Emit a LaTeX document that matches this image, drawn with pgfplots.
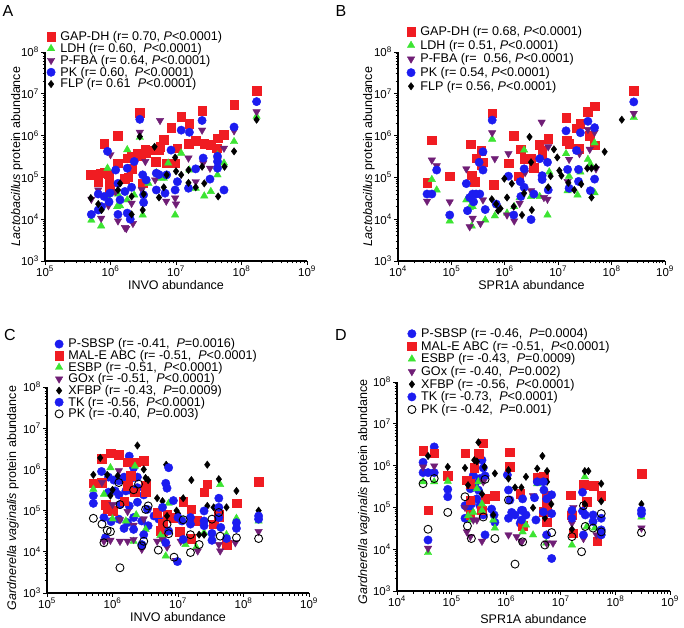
\documentclass[border=0pt]{standalone}
\usepackage{fontspec}
\setmainfont{Liberation Sans}
\usepackage{pgfplots}
\pgfplotsset{compat=1.18}

\definecolor{cred}{RGB}{240,28,34}
\definecolor{cgreen}{RGB}{60,228,50}
\definecolor{cpurple}{RGB}{112,30,118}
\definecolor{cblue}{RGB}{28,28,240}

\pgfplotsset{
  every axis/.append style={
    scale only axis,
    ymin=1e3, ymax=1e8,
    axis x line*=bottom, axis y line*=left,
    axis line style={line width=1.1pt, black},
    tick style={black, line width=0.9pt},
    tick align=outside,
    major tick length=4pt, minor tick length=2.5pt,
    ytick={1e3,1e4,1e5,1e6,1e7,1e8},
    yticklabels={10\textsuperscript{3},10\textsuperscript{4},10\textsuperscript{5},10\textsuperscript{6},10\textsuperscript{7},10\textsuperscript{8}},
    tick label style={font=\fontsize{11.5}{12}\selectfont},
    xticklabel style={inner sep=1pt},
    yticklabel style={inner sep=2pt},
    label style={font=\fontsize{12.5}{14}\selectfont},
    legend style={draw=none, fill=none, inner sep=0pt, font=\fontsize{12.6}{13}\selectfont,
      nodes={inner sep=1pt}, column sep=4pt, anchor=north west},
    legend cell align=left,
    clip=false,
  },
  sq/.style={only marks, mark=square*, mark size=4.3pt, color=cred},
  tri/.style={only marks, mark=triangle*, mark size=4.3pt, color=cgreen},
  itri/.style={only marks, mark=triangle*, mark size=4.3pt, mark options={rotate=180}, color=cpurple},
  dot/.style={only marks, mark=*, mark size=4.2pt, color=cblue},
  dia/.style={only marks, mark=diamond*, mark size=3.7pt, color=black},
  odot/.style={only marks, mark=o, mark size=4pt, mark options={line width=0.9pt}, color=black},
}

\begin{document}
\begin{tikzpicture}
\useasboundingbox (0,0) rectangle (684pt,627pt);
\node[font=\fontsize{16}{16}\selectfont] at (8pt,616pt) {A};
\node[font=\fontsize{16}{16}\selectfont] at (341pt,616pt) {B};
\node[font=\fontsize{16}{16}\selectfont] at (10pt,292pt) {C};
\node[font=\fontsize{16}{16}\selectfont] at (341pt,292pt) {D};

% ---------------- A ----------------
\begin{axis}[xmode=log, ymode=log, at={(45pt,366pt)}, anchor=south west,
  width=262pt, height=209pt,
  xmin=1e5, xmax=1e9, xtick={1e5,1e6,1e7,1e8,1e9},
  xticklabels={10\textsuperscript{5},10\textsuperscript{6},10\textsuperscript{7},10\textsuperscript{8},10\textsuperscript{9}},
  minor xtick={2e5,3e5,4e5,5e5,6e5,7e5,8e5,9e5,2e6,3e6,4e6,5e6,6e6,7e6,8e6,9e6,2e7,3e7,4e7,5e7,6e7,7e7,8e7,9e7,2e8,3e8,4e8,5e8,6e8,7e8,8e8,9e8},
  xlabel={INVO abundance}, ylabel={\textit{Lactobacillus} protein abundance},
  xlabel style={at={(axis description cs:0.5,-0.115)}, anchor=center},
  ylabel style={at={(axis description cs:-0.107,0.5)}, anchor=center},
  legend style={at={(axis description cs:0.006,1.104)}, row sep=-0.8pt}]
\addplot[sq] coordinates {
(1.7e8,1.2e7) (7.7e7,5.4e6) (2.5e7,3.9e6) (1.2e7,2.8e6) (1.6e7,1.95e6) (8.4e6,1.55e6)
(6.5e6,7.9e5) (2.0e7,7.6e5) (1.55e7,6.5e5) (2.7e7,6.5e5) (3.4e7,6.0e5) (4.2e7,5.0e5)
(4.3e7,8.7e5) (5.4e7,1.05e6) (5.7e6,5.5e5) (1.05e7,5.0e5) (7.1e6,2.2e5) (9.7e6,2.2e5)
(2.8e6,3.5e6) (1.3e6,1.0e6) (8.0e5,6.5e5) (5.0e5,1.15e5) (6.5e5,7.9e4) (7.1e5,1.26e5)
(8.1e5,1.3e5) (9.3e5,1.2e5) (9.5e5,8.3e4) (1.3e6,2.2e5) (1.8e6,2.9e5) (2.1e6,3.2e5)
(2.6e6,3.8e5) (2.9e6,3.2e5) (3.4e6,4.6e5) (3.5e6,3.8e5) (4.7e6,4.5e5) (5.4e6,4.6e5)
(1.66e6,9.3e4) (1.86e6,1.0e5) (2.1e6,1.6e5) (3.1e6,7.2e4) (4.9e6,2.4e5) (9.8e5,5.1e4)
};
\addlegendentry{GAP-DH (r= 0.70, \textit{P}<0.0001)}
\addplot[tri] coordinates {
(1.7e8,2.9e6) (7.7e7,7.2e5) (1.2e7,3.8e5) (4.3e7,3.4e5) (5.4e7,2.2e5) (1.6e7,1.5e5)
(4.3e7,1.15e5) (7.6e6,2.2e5) (2.0e7,5.5e4) (2.7e7,3.6e4) (3.4e7,4.6e4) (9.7e6,1.26e4)
(6.5e6,9.5e4) (2.8e6,9.1e5) (1.8e6,4.6e5) (9.0e5,1.66e5) (5.1e5,9.5e3) (7.2e5,6.9e3)
(3.1e6,1.26e4) (1.26e6,2.0e4) (1.4e6,2.1e4) (1.8e6,2.9e4) (2.3e6,3.8e4) (3.8e6,7.2e4)
(6.0e6,9.5e4) (9.3e5,3.2e4) (1.3e6,4.0e4) (5.0e6,1.3e5)
};
\addlegendentry{LDH (r= 0.60,\ \ \textit{P}<0.0001)}
\addplot[itri] coordinates {
(1.7e8,3.7e6) (7.7e7,1.3e6) (2.5e7,1.35e6) (5.7e6,2.3e6) (1.55e7,2.9e5) (2.6e7,2.2e5)
(3.3e7,1.66e5) (5.4e7,5.0e5) (2.0e7,7.9e4) (9.7e6,3.2e4) (1.0e7,2.3e4) (7.1e6,2.7e4)
(4.3e7,2.5e5) (2.8e6,1.2e6) (6.5e5,5.0e4) (9.3e5,2.1e4) (1.2e6,4.6e4) (1.66e6,6.3e3)
(1.74e6,6.0e3) (1.3e6,9.1e3) (2.2e6,7.9e3) (2.1e6,2.4e4) (3.4e6,2.4e5) (4.8e6,8.7e4)
(5.1e5,3.0e4) (7.2e5,1.05e4) (3.0e6,5.1e4) (1.0e6,3.5e5)
};
\addlegendentry{P-FBA (r= 0.64, \textit{P}<0.0001)}
\addplot[dot] coordinates {
(1.7e8,6.5e6) (2.5e7,2.3e6) (1.2e7,1.35e6) (1.6e7,1.2e6) (7.7e7,1.6e6) (8.4e6,4.5e5)
(2.6e7,2.9e5) (4.3e7,3.2e5) (4.3e7,2.4e5) (4.3e7,1.66e5) (2.0e7,1.6e5) (3.3e7,9.1e4)
(1.05e7,7.9e4) (1.55e7,5.5e4) (9.7e6,5.0e4) (5.4e7,5.0e4) (6.8e6,4.2e4) (7.2e6,1.15e5)
(2.8e6,2.45e6) (9.0e5,4.2e5) (2.3e6,2.4e5) (1.2e6,1.5e5) (1.8e6,1.66e5) (3.1e6,1.15e5)
(3.5e6,8.7e4) (5.0e6,1.26e5) (5.5e6,1.17e5) (1.3e6,7.2e4) (6.5e5,4.0e4) (8.0e5,3.5e4)
(9.8e5,4.2e4) (9.5e5,2.6e4) (7.3e5,2.0e4) (5.1e5,1.3e4) (6.5e5,1.66e4) (1.3e6,1.3e4)
(1.66e6,4.6e4) (2.1e6,5.8e4) (3.2e6,3.8e4) (3.2e6,2.5e4) (2.0e6,1.0e4) (1.8e6,1.4e4)
(1.4e6,2.9e4) (5.0e6,5.0e4)
};
\addlegendentry{PK (r= 0.60,\ \ \textit{P}<0.0001)}
\addplot[dia] coordinates {
(1.7e8,2.4e6) (7.7e7,4.2e5) (9.7e6,3.0e5) (1.0e7,1.4e5) (1.2e7,1.15e5) (2.5e7,1.8e5)
(5.5e7,1.8e5) (1.55e7,1.5e5) (7.2e6,1.15e5) (6.5e6,5.8e4) (1.55e7,7.4e4) (2.0e7,5.8e4)
(2.7e7,7.2e4) (4.4e7,3.5e4) (2.8e6,9.5e5) (4.7e6,5.4e5) (5.0e5,3.2e4) (6.5e5,2.3e4)
(7.3e5,1.66e4) (1.3e6,5.0e4) (2.1e6,3.5e4) (3.1e6,1.66e4) (1.4e6,7.2e4) (2.1e6,1.3e4)
(3.2e6,4.0e4) (5.5e6,3.3e4)
};
\addlegendentry{FLP (r= 0.61\ \ \textit{P}<0.0001)}
\end{axis}

% ---------------- B ----------------
\begin{axis}[xmode=log, ymode=log, at={(398pt,366pt)}, anchor=south west,
  width=267pt, height=209pt,
  xmin=1e4, xmax=1e9, xtick={1e4,1e5,1e6,1e7,1e8,1e9},
  xticklabels={10\textsuperscript{4},10\textsuperscript{5},10\textsuperscript{6},10\textsuperscript{7},10\textsuperscript{8},10\textsuperscript{9}},
  minor xtick={2e4,3e4,4e4,5e4,6e4,7e4,8e4,9e4,2e5,3e5,4e5,5e5,6e5,7e5,8e5,9e5,2e6,3e6,4e6,5e6,6e6,7e6,8e6,9e6,2e7,3e7,4e7,5e7,6e7,7e7,8e7,9e7,2e8,3e8,4e8,5e8,6e8,7e8,8e8,9e8},
  xlabel={SPR1A abundance}, ylabel={\textit{Lactobacillus} protein abundance},
  xlabel style={at={(axis description cs:0.5,-0.115)}, anchor=center},
  ylabel style={at={(axis description cs:-0.109,0.5)}, anchor=center},
  legend style={at={(axis description cs:0.032,1.128)}, row sep=1pt}]
\addplot[sq] coordinates {
(2.6e8,1.2e7) (4.8e7,5.1e6) (3.6e7,3.7e6) (1.4e7,2.7e6) (2.6e7,1.95e6) (2.2e7,1.5e6)
(3.9e7,1.0e6) (1.43e7,7.5e5) (1.6e7,6.5e5) (4.8e7,5.9e5) (2.4e7,4.9e5) (6.5e6,8.5e5)
(4.4e6,6.1e5) (5.0e6,4.5e5) (5.0e6,3.4e5) (2.0e6,4.7e5) (2.3e6,2.8e5) (3.1e6,2.8e5)
(3.5e6,1.7e5) (5.8e5,3.4e6) (4.3e4,7.8e5) (2.3e5,6.2e5) (1.47e6,9.8e5) (1.95e6,4.7e5)
(2.9e5,2.9e5) (3.9e5,2.3e5) (2.4e5,1.12e5) (2.7e5,8.0e4) (9.3e4,1.07e5) (3.5e4,7.4e4)
(6.2e5,6.6e4) (1.17e6,2.2e5) (1.8e6,1.07e5) (3.6e5,1.95e5) (3.6e5,4.3e5)
};
\addlegendentry{GAP-DH (r= 0.68, \textit{P}<0.0001)}
\addplot[tri] coordinates {
(2.6e8,2.7e6) (1.4e7,3.7e5) (3.6e7,2.7e5) (4.0e7,2.1e5) (4.8e7,6.7e5) (1.6e7,1.07e5)
(2.3e7,3.8e4) (4.8e7,4.3e4) (1.5e7,4.8e4) (6.8e6,1.35e5) (6.3e6,1.26e4) (4.5e6,3.5e4)
(3.1e6,3.5e4) (2.3e6,4.5e5) (2.6e7,1.35e5) (5.8e5,8.2e5) (4.3e4,8.9e4) (5.3e4,5.0e4)
(9.3e4,9.1e3) (1.9e5,2.9e4) (2.4e5,6.9e3) (4.3e5,9.6e3) (6.5e5,1.2e4) (2.5e5,2.0e4)
(1.1e6,1.4e4) (1.5e6,2.0e4) (1.9e6,3.3e4) (2.2e5,1.9e4)
};
\addlegendentry{LDH (r= 0.51, \textit{P}<0.0001)}
\addplot[itri] coordinates {
(2.6e8,3.4e6) (4.9e6,2.1e6) (3.6e7,1.4e6) (4.8e7,1.2e6) (6.5e6,5.4e5) (3.9e7,4.7e5)
(1.6e7,2.7e5) (5.1e7,1.6e5) (1.5e7,8.0e4) (2.4e6,1.3e5) (3.1e6,4.8e4) (5.4e6,3.3e4)
(6.3e6,3.0e4) (1.9e6,2.4e4) (2.5e7,3.7e5) (5.8e5,1.17e6) (4.3e4,2.6e5) (5.3e4,1.9e5)
(3.5e4,2.7e4) (9.3e4,2.6e4) (1.9e5,1.6e5) (6.5e5,2.8e5) (1.17e6,3.7e5) (2.2e5,6.6e3)
(3.5e5,7.9e3) (3.9e5,2.9e4) (2.5e5,1.05e4) (1.5e6,9.1e3) (1.1e6,1.26e4)
};
\addlegendentry{P-FBA (r=\ \ 0.56, \textit{P}<0.0001)}
\addplot[dot] coordinates {
(2.6e8,6.4e6) (1.4e7,1.3e6) (2.6e7,1.17e6) (3.6e7,2.2e6) (4.8e7,1.55e6) (2.2e7,4.4e5)
(4.5e6,2.8e5) (6.3e6,2.3e5) (2.3e6,1.6e5) (5.0e6,1.1e5) (5.0e6,8.9e4) (1.5e7,1.55e5)
(2.4e7,1.55e5) (4.8e7,9.1e4) (2.4e7,8.0e4) (1.6e7,5.5e4) (4.0e7,4.8e4) (6.5e6,5.0e4)
(3.5e6,4.0e4) (2.3e6,5.8e4) (3.1e6,9.8e3) (2.0e6,3.5e4) (5.8e5,2.35e6) (5.3e4,1.5e5)
(3.5e4,4.0e4) (4.3e4,4.0e4) (9.3e4,1.26e4) (3.9e5,4.1e5) (3.3e5,2.3e5) (3.9e5,1.5e5)
(1.9e5,7.1e4) (2.5e5,4.0e4) (3.4e5,4.0e4) (2.9e5,4.0e4) (2.6e5,2.6e4) (2.0e5,1.6e4)
(4.3e5,1.7e4) (6.9e5,2.3e4) (1.17e6,1.07e5) (1.47e6,1.26e4) (1.95e6,7.9e4) (2.2e5,3.3e4)
};
\addlegendentry{PK (r= 0.54, \textit{P}<0.0001)}
\addplot[dia] coordinates {
(1.55e8,2.4e6) (7.4e7,4.1e5) (2.9e6,9.3e5) (8.3e6,4.7e5) (9.6e6,3.0e5) (1.05e7,1.45e5)
(1.15e7,1.1e5) (3.1e6,2.3e5) (3.5e7,1.65e5) (4.2e7,1.65e5) (5.1e7,1.75e5) (7.2e6,1.07e5)
(2.0e7,5.0e4) (2.7e7,6.9e4) (1.55e7,7.4e4) (4.2e7,3.3e4) (6.5e6,5.8e4) (3.2e6,1.66e4)
(2.1e6,1.26e4) (9.8e5,9.3e4) (1.35e6,7.1e4) (5.7e5,3.0e4) (6.9e5,2.3e4) (8.3e5,1.8e4)
(1.47e6,2.0e4) (1.1e6,3.3e4) (7.5e5,1.6e4) (2.3e6,4.2e4)
};
\addlegendentry{FLP (r= 0.56, \textit{P}<0.0001)}
\end{axis}

% ---------------- C ----------------
\begin{axis}[xmode=log, ymode=log, at={(47pt,34pt)}, anchor=south west,
  width=262pt, height=206pt,
  xmin=1e5, xmax=1e9, xtick={1e5,1e6,1e7,1e8,1e9},
  xticklabels={10\textsuperscript{5},10\textsuperscript{6},10\textsuperscript{7},10\textsuperscript{8},10\textsuperscript{9}},
  minor xtick={2e5,3e5,4e5,5e5,6e5,7e5,8e5,9e5,2e6,3e6,4e6,5e6,6e6,7e6,8e6,9e6,2e7,3e7,4e7,5e7,6e7,7e7,8e7,9e7,2e8,3e8,4e8,5e8,6e8,7e8,8e8,9e8},
  xlabel={INVO abundance}, ylabel={\textit{Gardnerella vaginalis} protein abundance},
  xlabel style={at={(axis description cs:0.5,-0.115)}, anchor=center},
  ylabel style={at={(axis description cs:-0.130,0.46)}, anchor=center},
  legend style={at={(axis description cs:0.029,1.24)}, row sep=-1pt}]
\addplot[dot] coordinates {
(1.8e6,2.1e6) (6.8e5,8.9e5) (5.1e5,2.3e5) (5.1e5,1.5e5) (8.7e5,6.5e5) (1.05e6,5.5e5)
(1.25e6,5.3e5) (1.5e6,6.5e5) (2.0e6,6.2e5) (2.4e6,6.5e5) (8.7e5,2.8e5) (1.1e6,3.0e5)
(1.25e6,2.4e5) (1.6e6,3.0e5) (2.0e6,3.0e5) (2.4e6,3.6e5) (3.0e6,2.4e5) (7.8e5,1.3e5)
(9.8e5,1.07e5) (1.3e6,1.4e5) (1.8e6,1.3e5) (2.4e6,1.6e5) (3.4e6,1.07e5) (4.3e6,7.4e4)
(5.1e6,6.2e4) (7.4e5,6.8e4) (9.5e5,5.4e4) (1.25e6,6.2e4) (1.7e6,5.1e4) (2.1e6,6.8e4)
(2.8e6,5.6e4) (3.5e6,4.3e4) (7.8e5,2.2e4) (2.1e6,1.1e6)
};
\addlegendentry{P-SBSP (r= -0.41,\ \ \textit{P}=0.0016)}
\addplot[sq] coordinates {
(6.8e5,1.8e6) (9.3e5,2.45e6) (1.25e6,2.3e6) (1.7e6,1.5e6) (2.3e6,1.5e6) (3.0e6,1.6e6)
(5.1e5,4.6e5) (6.9e5,4.8e5) (1.7e6,4.0e5) (1.9e6,7.0e5) (3.2e6,4.0e5) (3.2e6,2.8e5)
(7.8e5,1.4e5) (8.3e5,1.07e5) (4.8e6,9.0e4) (5.4e6,3.2e4) (2.2e6,2.8e5) (1.5e6,1.7e5)
(1.0e6,1.0e5) (1.7e8,5.1e5) (2.8e7,4.4e5) (2.5e7,2.8e5) (7.8e7,1.5e5) (1.2e7,1.65e5)
(1.6e7,1.07e5) (6.8e6,8.0e4) (8.5e6,6.8e4) (1.07e7,3.1e4) (4.2e7,8.2e4) (3.5e7,4.7e4)
(1.95e7,5.6e4) (1.6e7,2.1e4) (5.5e7,1.5e4) (5.8e6,5.0e4) (5.8e6,3.3e4) (4.2e7,7.0e4)
};
\addlegendentry{MAL-E ABC (r= -0.51,\ \ \textit{P}<0.0001)}
\addplot[tri] coordinates {
(9.3e5,1.1e6) (5.1e5,3.3e5) (7.4e5,2.5e5) (1.0e6,6.3e4) (1.6e6,5.6e4) (2.3e6,7.9e4)
(3.2e6,3.5e4) (2.1e6,1.8e4) (5.4e6,2.5e4) (6.0e6,2.1e4) (7.2e6,1.5e5) (4.4e7,4.3e5)
(1.2e7,5.9e4) (6.5e6,7.9e3) (1.9e7,1.3e4) (2.5e7,2.9e4) (7.8e7,6.5e4) (1.7e8,5.6e4)
(5.8e6,2.0e4) (5.5e7,2.6e4) (2.2e6,1.2e6) (1.3e7,1.5e4)
};
\addlegendentry{ESBP (r= -0.51,\ \ \textit{P}<0.0001)}
\addplot[itri] coordinates {
(1.25e6,9.3e5) (6.9e5,4.8e5) (1.0e6,1.4e5) (1.3e6,6.0e4) (1.7e6,9.5e4) (2.1e6,4.4e4)
(3.0e6,6.3e4) (7.4e5,1.8e4) (9.3e5,1.9e4) (1.3e6,1.8e4) (1.7e6,1.8e4) (2.1e6,2.0e4)
(2.8e6,1.15e4) (4.8e6,1.8e4) (9.2e6,6.2e3) (6.8e6,1.3e4) (4.4e7,1.05e4) (7.5e7,1.66e4)
(1.7e8,3.1e4) (2.0e7,1.05e4) (4.2e7,1.5e4) (1.1e7,1.8e4) (5.8e6,2.0e4)
};
\addlegendentry{GOx (r= -0.51,\ \ \textit{P}<0.0001)}
\addplot[dia] coordinates {
(2.4e6,3.8e6) (5.1e5,7.4e5) (6.5e5,1.9e6) (8.3e5,7.4e5) (1.2e6,7.0e5) (3.2e6,6.2e5)
(3.5e6,5.5e5) (1.0e6,3.2e5) (3.0e6,1.0e6) (4.8e6,2.0e5) (6.6e6,1.3e6) (2.8e7,1.3e6)
(1.6e7,5.5e5) (4.2e7,5.8e5) (7.8e7,3.0e5) (1.2e7,2.0e5) (5.8e6,1.7e5) (3.5e7,1.2e5)
(5.5e7,1.2e5) (2.8e7,1.3e5) (9.5e6,1.0e5) (1.0e7,8.5e4) (1.7e8,1.0e5) (2.1e7,2.6e4)
(2.5e7,2.6e4) (6.8e6,7.4e4) (9.3e5,2.3e5)
};
\addlegendentry{XFBP (r= -0.43,\ \ \textit{P}=0.0009)}
\addplot[dot] coordinates {
(7.2e6,1.1e6) (6.5e6,4.6e5) (6.8e6,3.5e5) (8.5e6,1.75e5) (5.8e6,1.2e5) (1.0e7,6.8e4)
(1.15e7,5.6e4) (1.55e7,6.8e4) (1.55e7,4.7e4) (2.5e7,9.8e4) (2.5e7,5.6e4) (2.5e7,4.3e4)
(4.2e7,2.0e5) (4.2e7,1.2e5) (4.2e7,6.8e4) (4.5e7,3.9e4) (7.8e7,5.1e4) (7.8e7,3.7e4)
(1.7e8,7.4e4) (1.7e8,6.2e4) (1.2e7,2.0e4) (3.3e7,2.8e4) (3.3e7,1.9e4) (5.5e7,2.1e4)
(9.8e6,5.8e3) (6.5e6,1.66e4) (7.2e6,3.2e4) (1.5e6,3.7e4) (2.1e6,3.5e4) (3.0e6,2.6e4)
(2.8e6,1.5e4)
};
\addlegendentry{TK (r= -0.56,\ \ \textit{P}<0.0001)}
\addplot[odot] coordinates {
(5.1e5,6.5e4) (6.9e5,4.7e4) (8.3e5,3.3e4) (7.4e5,1.66e4) (9.3e5,3.1e4) (1.25e6,4.8e5)
(1.3e6,1.4e5) (2.1e6,3.2e5) (2.5e6,4.4e5) (3.2e6,1.07e5) (3.5e6,1.3e5) (1.3e6,4.1e3)
(3.0e6,1.8e4) (2.8e6,1.4e4) (7.8e7,2.2e4) (1.7e8,2.1e4) (3.3e7,6.2e4) (4.4e7,2.4e4)
(2.1e7,1.5e4) (1.55e7,9.6e3) (8.7e6,7.4e3) (7.2e6,2.75e4) (6.8e6,4.7e4) (1.55e7,2.6e4)
(4.2e7,9.0e4) (5.0e6,1.1e4) (1.2e7,6.0e4)
};
\addlegendentry{PK (r= -0.40,\ \ \textit{P}=0.003)}
\end{axis}

% ---------------- D ----------------
\begin{axis}[xmode=log, ymode=log, at={(397pt,36pt)}, anchor=south west,
  width=273pt, height=209pt,
  xmin=1e4, xmax=1e9, xtick={1e4,1e5,1e6,1e7,1e8,1e9},
  xticklabels={10\textsuperscript{4},10\textsuperscript{5},10\textsuperscript{6},10\textsuperscript{7},10\textsuperscript{8},10\textsuperscript{9}},
  minor xtick={2e4,3e4,4e4,5e4,6e4,7e4,8e4,9e4,2e5,3e5,4e5,5e5,6e5,7e5,8e5,9e5,2e6,3e6,4e6,5e6,6e6,7e6,8e6,9e6,2e7,3e7,4e7,5e7,6e7,7e7,8e7,9e7,2e8,3e8,4e8,5e8,6e8,7e8,8e8,9e8},
  xlabel={SPR1A abundance}, ylabel={\textit{Gardnerella vaginalis} protein abundance},
  xlabel style={at={(axis description cs:0.5,-0.135)}, anchor=center},
  ylabel style={at={(axis description cs:-0.121,0.474)}, anchor=center},
  legend style={at={(axis description cs:0.038,1.262)}, row sep=0pt}]
\addplot[dot] coordinates {
(4.8e4,2.8e6) (3.0e4,1.2e6) (3.0e4,6.8e5) (3.7e4,6.8e5) (4.8e4,6.8e5) (3.7e4,1.66e4)
(8.5e4,2.7e5) (8.5e4,1.8e5) (3.6e5,1.35e6) (3.8e5,8.8e5) (4.1e5,5.7e5) (3.3e5,4.9e5)
(2.5e5,5.9e5) (2.7e5,3.7e5) (2.2e5,2.8e5) (3.1e5,2.6e5) (2.9e5,1.6e5) (2.3e5,1.2e5)
(3.3e5,1.1e5) (3.8e5,6.6e4) (2.2e5,8.2e4) (5.4e5,9.1e4) (6.0e5,6.6e4) (6.2e5,4.4e4)
(4.1e5,2.2e4) (1.1e6,2.6e5) (1.17e6,1.5e5) (1.26e6,7.6e4) (1.1e6,5.5e4) (1.45e6,6.6e4)
(1.8e6,4.2e4) (1.9e6,8.5e4) (1.76e5,1.1e5) (1.76e5,5.5e4) (1.05e6,6.0e5)
};
\addlegendentry{P-SBSP (r= -0.46,\ \ \textit{P}=0.0004)}
\addplot[sq] coordinates {
(3.0e4,2.3e6) (4.8e4,2.0e6) (3.7e4,8.5e4) (8.5e4,5.7e5) (1.76e5,2.0e6) (3.1e5,1.95e6)
(3.8e5,3.4e6) (2.6e5,8.8e5) (1.9e5,4.5e5) (2.2e5,3.7e5) (4.1e5,1.6e5) (6.2e5,1.9e5)
(2.2e5,1.5e5) (3.6e5,8.5e4) (1.17e6,2.1e6) (1.15e6,9.3e5) (1.8e6,2.1e5) (2.0e6,3.6e4)
(2.2e5,6.8e4) (3.7e6,5.1e5) (4.8e6,5.4e5) (5.5e6,1.9e5) (5.5e6,1.1e5) (5.5e6,4.4e4)
(1.5e7,1.95e5) (2.6e7,3.5e5) (4.0e7,3.3e5) (5.5e7,1.9e5) (3.0e8,6.5e5) (1.6e7,6.5e4)
(1.7e7,2.4e4) (3.0e7,1.35e5) (4.6e7,1.55e4) (4.8e6,7.8e4)
};
\addlegendentry{MAL-E ABC (r= -0.51,\ \ \textit{P}<0.0001)}
\addplot[tri] coordinates {
(3.7e4,8.3e3) (4.8e4,4.1e5) (3.0e4,4.1e5) (8.5e4,4.2e5) (2.0e5,6.3e4) (2.3e5,5.0e4)
(2.5e5,7.6e4) (3.6e5,8.5e4) (3.6e5,1.2e5) (6.2e5,3.2e4) (2.9e5,2.8e5) (3.1e5,4.1e5)
(5.8e5,5.0e4) (3.7e6,3.7e5) (3.1e6,2.2e4) (5.4e6,2.2e4) (5.4e6,1.4e4) (1.6e7,1.26e4)
(2.75e7,5.4e5) (3.0e7,3.5e4) (4.2e7,3.2e4) (3.0e8,5.9e4) (2.0e6,2.6e4) (2.3e6,3.8e4)
};
\addlegendentry{ESBP (r= -0.43,\ \ \textit{P}=0.0009)}
\addplot[itri] coordinates {
(3.0e4,9.3e5) (4.8e4,9.8e5) (3.7e4,1.05e4) (1.76e5,1.0e5) (1.9e5,2.6e4) (2.2e5,2.0e4)
(3.6e5,1.55e4) (1.1e6,2.2e4) (1.55e6,2.0e4) (1.95e6,1.55e4) (2.5e5,5.0e4) (2.9e5,5.0e4)
(3.8e5,4.1e5) (3.1e6,1.9e5) (5.5e6,1.4e4) (7.2e6,1.4e4) (1.6e7,4.2e4) (1.7e7,1.0e5)
(2.6e7,1.8e4) (4.5e7,2.2e4) (3.0e8,3.2e4) (1.9e6,1.5e4)
};
\addlegendentry{GOx (r= -0.40,\ \ \textit{P}=0.002)}
\addplot[dia] coordinates {
(3.7e4,1.7e6) (8.5e4,9.3e5) (1.76e5,8.8e5) (2.9e5,1.26e6) (3.1e5,3.6e6) (2.6e5,1.35e6)
(4.0e5,9.3e5) (6.2e5,6.5e5) (1.1e6,4.9e5) (1.45e6,3.0e5) (1.9e6,3.0e5) (1.1e6,7.8e5)
(5.8e5,6.6e4) (2.0e5,3.4e5) (3.6e5,2.1e5) (4.6e6,1.7e6) (3.7e6,8.5e5) (5.6e6,7.4e5)
(2.3e6,5.4e5) (5.6e6,4.1e5) (6.7e6,1.2e5) (3.1e6,9.8e4) (2.75e7,7.4e5) (3.2e7,7.4e5)
(5.5e7,3.7e5) (2.75e7,1.2e5) (5.5e7,1.4e5) (3.0e8,1.2e5) (1.6e7,3.0e4) (5.1e6,5.6e4)
};
\addlegendentry{XFBP (r= -0.56,\ \ \textit{P}<0.0001)}
\addplot[dot] coordinates {
(3.7e6,4.1e5) (4.8e6,4.1e5) (2.0e6,8.5e4) (2.3e6,6.6e4) (1.9e6,5.0e4) (3.3e6,1.7e5)
(3.5e6,5.0e4) (4.9e6,2.6e5) (5.5e6,1.6e5) (6.8e6,2.0e5) (6.8e6,7.1e4) (4.8e6,7.8e4)
(5.5e6,2.2e4) (6.8e6,6.0e3) (1.6e7,8.5e4) (1.6e7,5.5e4) (2.5e7,2.3e5) (2.5e7,8.1e4)
(2.8e7,6.6e4) (3.9e7,6.6e4) (3.9e7,4.6e4) (5.5e7,5.5e4) (5.5e7,2.2e4) (5.5e7,2.9e4)
(3.0e8,8.5e4) (3.0e8,7.1e4) (2.6e7,2.2e4) (2.0e6,1.6e5)
};
\addlegendentry{TK (r= -0.73,\ \ \textit{P}<0.0001)}
\addplot[odot] coordinates {
(3.0e4,3.7e5) (4.8e4,4.9e5) (3.7e4,3.0e4) (8.5e4,7.6e4) (1.76e5,1.8e5) (1.95e5,3.6e4)
(2.3e5,1.8e4) (3.8e5,5.9e4) (4.1e5,4.7e5) (6.2e5,1.8e4) (1.45e6,4.4e3) (1.1e6,1.5e5)
(2.0e6,1.5e4) (5.1e6,1.26e4) (6.8e6,2.5e4) (2.4e7,8.7e3) (2.8e7,3.5e4) (3.9e7,3.2e4)
(5.5e7,7.1e4) (5.5e7,2.6e4) (3.0e8,2.5e4) (1.6e7,2.0e4) (2.6e7,1.1e5)
};
\addlegendentry{PK (r= -0.42,\ \ \textit{P}=0.001)}
\end{axis}
\end{tikzpicture}
\end{document}
